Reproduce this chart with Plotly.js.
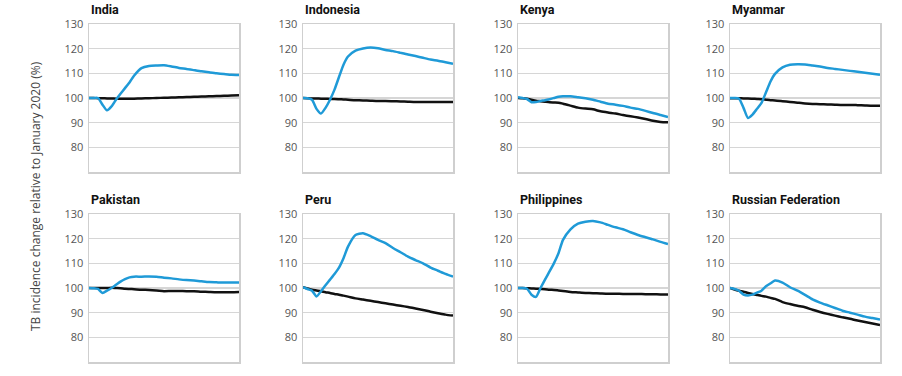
<!DOCTYPE html>
<html>
<head>
<meta charset="utf-8">
<script src="https://cdn.plot.ly/plotly-3.0.1.min.js"></script>
<style>html,body{margin:0;padding:0;background:#fff;}#chart{width:902px;height:376px;}</style>
</head>
<body>
<div id="chart"></div>
<script>
// time axis: share of the period (0 = January 2020)
const timePoints = [0,3,6,9,12,15,18,21,24,27,30,35,40,45,50,55,60,65,70,75,80,85,90,95,100];

const countries = ["India","Indonesia","Kenya","Myanmar","Pakistan","Peru","Philippines","Russian Federation"];

const indiaBlue = [100,100,100,97.3,95,96.6,99.3,101.7,104,106.3,109,112.1,113,113.2,113.3,112.8,112.2,111.8,111.3,110.8,110.4,110,109.7,109.4,109.3];
const indiaBlack = [100,100,99.9,99.9,99.8,99.8,99.7,99.7,99.7,99.7,99.7,99.8,99.9,100,100.1,100.2,100.3,100.4,100.5,100.6,100.7,100.8,100.9,101,101.1];

const indonesiaBlue = [100,99.9,99.3,95.6,93.7,96,99.3,103.4,108.5,113.5,116.8,119.2,120.1,120.5,120.2,119.5,119,118.3,117.6,117,116.3,115.6,115.1,114.5,113.9];
const indonesiaBlack = [100,99.9,99.8,99.8,99.7,99.7,99.6,99.6,99.5,99.4,99.3,99.1,99,98.9,98.8,98.8,98.7,98.6,98.5,98.4,98.4,98.4,98.4,98.4,98.4];

const kenyaBlue = [100.3,100,99.6,98.3,98.4,98.8,99.1,99.5,100,100.5,100.7,100.7,100.3,99.9,99.3,98.5,97.7,97.3,96.8,96.1,95.6,94.8,93.9,93.1,92.3];
const kenyaBlack = [100,99.9,99.7,99.3,98.9,98.7,98.5,98.3,98.2,98.1,97.7,96.9,96.1,95.7,95.4,94.6,94.1,93.7,93.1,92.6,92.1,91.5,90.8,90.3,90.2];

const myanmarBlue = [100,100,99.7,96,91.9,93.3,95.6,98,102.3,106.7,109.8,112.4,113.5,113.7,113.6,113.2,112.8,112.2,111.8,111.4,111,110.6,110.2,109.8,109.4];
const myanmarBlack = [99.9,99.9,99.9,99.8,99.8,99.7,99.6,99.5,99.3,99.1,99,98.7,98.4,98.1,97.8,97.6,97.5,97.4,97.3,97.2,97.2,97.1,97,96.9,96.9];

const pakistanBlue = [100,99.9,99.6,98,98.9,100,101.3,102.6,103.6,104.3,104.6,104.6,104.7,104.6,104.2,103.9,103.5,103.2,103,102.7,102.4,102.3,102.2,102.2,102.2];
const pakistanBlack = [100,100,100,100,100,100.1,100,99.9,99.7,99.6,99.5,99.3,99.2,99,98.7,98.8,98.8,98.7,98.7,98.5,98.4,98.3,98.3,98.3,98.4];

const peruBlue = [100.3,99.6,98.9,96.6,98.7,101.1,103.4,105.7,108.3,112.1,116.8,121.5,122.2,121,119.5,118.2,116.2,114.5,112.7,111.3,110,108.3,107,105.7,104.6];
const peruBlack = [100.3,99.8,99.3,99,98.7,98.3,98,97.6,97.3,96.9,96.5,95.8,95.3,94.8,94.3,93.8,93.3,92.8,92.3,91.7,91.1,90.4,89.8,89.2,88.8];

const philippinesBlue = [100,100,99.7,97.3,96.4,100,103.4,106.7,110.1,114.1,119.5,123.8,126.1,126.9,127.2,126.6,125.6,124.6,123.8,122.6,121.5,120.6,119.7,118.7,117.8];
const philippinesBlack = [100,100,99.9,99.8,99.7,99.6,99.5,99.3,99.2,99,98.8,98.4,98.2,98,97.9,97.8,97.7,97.7,97.6,97.6,97.6,97.5,97.5,97.4,97.4];

const russiaBlue = [100,99.6,98.9,97.3,97,97.3,98.1,98.9,100.7,101.9,103,102.2,100.3,98.9,97.2,95.4,94.1,93,91.9,90.8,90,89.2,88.4,87.8,87.2];
const russiaBlack = [100,99.4,98.9,98.5,98,97.6,97.2,96.8,96.5,96,95.6,94.3,93.5,92.8,92.2,91.2,90.3,89.5,88.8,88.1,87.5,86.8,86.2,85.6,85];

const blueSeries = [indiaBlue,indonesiaBlue,kenyaBlue,myanmarBlue,pakistanBlue,peruBlue,philippinesBlue,russiaBlue];
const blackSeries = [indiaBlack,indonesiaBlack,kenyaBlack,myanmarBlack,pakistanBlack,peruBlack,philippinesBlack,russiaBlack];

const yTicks = [80,90,100,110,120,130];
const yTickLabels = ["80","90","100","110","120","130"];

const W = 902, H = 376;
const colLeft = [89, 303, 518, 730];
const plotW = 150;
const rowTop = [24, 214];
const plotH = 148;

const traces = [];
const layout = {
  width: W, height: H,
  margin: {l:0, r:0, t:0, b:0},
  paper_bgcolor: "#fff", plot_bgcolor: "#fff",
  showlegend: false,
  font: {family: "Open Sans, sans-serif", color: "#555"},
  annotations: []
};

countries.forEach((name, i) => {
  const r = Math.floor(i / 4), c = i % 4;
  const n = i + 1;
  const xa = n === 1 ? "x" : "x" + n;
  const ya = n === 1 ? "y" : "y" + n;
  const xKey = n === 1 ? "xaxis" : "xaxis" + n;
  const yKey = n === 1 ? "yaxis" : "yaxis" + n;
  const x0 = colLeft[c] / W, x1 = (colLeft[c] + plotW) / W;
  const yTop = 1 - rowTop[r] / H, yBot = 1 - (rowTop[r] + plotH) / H;

  layout[xKey] = {
    domain: [x0, x1], range: [0, 100], anchor: ya,
    showgrid: false, zeroline: false, showticklabels: false, ticks: "",
    showline: true, linecolor: "#cfcfcf", linewidth: 1.5, mirror: true, fixedrange: true
  };
  layout[yKey] = {
    domain: [yBot, yTop], range: [70, 130], anchor: xa,
    tickvals: yTicks, ticktext: yTickLabels, ticks: "",
    showgrid: true, gridcolor: "#d6d6d6", gridwidth: 1.5, zeroline: false,
    showline: true, linecolor: "#cfcfcf", linewidth: 1.5, mirror: true,
    tickfont: {family: "Open Sans, sans-serif", size: 11, color: "#555"},
    ticklabelstandoff: 2, fixedrange: true
  };

  traces.push({
    x: timePoints, y: blackSeries[i], xaxis: xa, yaxis: ya, type: "scatter", mode: "lines",
    line: {color: "#111111", width: 2.5, shape: "spline", smoothing: 0.6}, hoverinfo: "skip"
  });
  traces.push({
    x: timePoints, y: blueSeries[i], xaxis: xa, yaxis: ya, type: "scatter", mode: "lines",
    line: {color: "#1f9ad7", width: 2.5, shape: "spline", smoothing: 0.6}, hoverinfo: "skip"
  });

  layout.annotations.push({
    text: "<b>" + name + "</b>", xref: "paper", yref: "paper",
    x: x0, y: 1 - (rowTop[r] - 14.5) / H, xanchor: "left", yanchor: "middle",
    showarrow: false, font: {family: "Roboto, sans-serif", size: 12.5, color: "#111"}
  });
});

layout.annotations.push({
  text: "TB incidence change relative to January 2020 (%)",
  xref: "paper", yref: "paper", x: 35 / W, y: 1 - 196 / H,
  xanchor: "center", yanchor: "middle", textangle: -90, showarrow: false,
  font: {family: "Open Sans, sans-serif", size: 12, color: "#444"}
});

Plotly.newPlot("chart", traces, layout, {displayModeBar: false, staticPlot: true});
</script>
</body>
</html>
